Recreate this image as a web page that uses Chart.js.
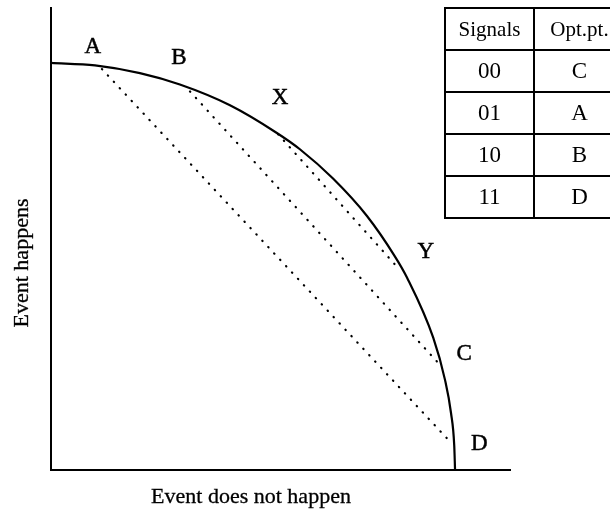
<!DOCTYPE html>
<html>
<head>
<meta charset="utf-8">
<script src="https://cdn.jsdelivr.net/npm/chart.js@4.4.1/dist/chart.umd.min.js"></script>
<style>
    body { margin: 0; background: #fff; overflow: hidden; }
    #wrap { position: relative; width: 610px; height: 509px; overflow: hidden; }
    #signalTable {
        position: absolute; left: 444px; top: 7px; width: 180px;
        border-collapse: collapse; table-layout: fixed;
        font-family: "Liberation Serif", "Times New Roman", serif; color: #000;
    }
    #signalTable th, #signalTable td {
        border: 2px solid #000; height: 40px; padding: 0;
        text-align: center; font-weight: normal;
    }
    #signalTable th { font-size: 21px; }
    #signalTable td { font-size: 23px; }
</style>
</head>
<body>
<div id="wrap">
    <canvas id="grafico" width="610" height="509"></canvas>
    <table id="signalTable">
        <colgroup><col style="width:89px"><col style="width:91px"></colgroup>
        <thead><tr><th>Signals</th><th>Opt.pt.</th></tr></thead>
        <tbody></tbody>
    </table>
</div>
<script>
// frontier
const frontierX = [0, 0.109, 0.220, 0.319, 0.443, 0.559, 0.616, 0.698, 0.782, 0.851, 0.881, 0.946, 0.975, 0.990, 0.998, 1.0];
const frontierY = [1.0, 0.994, 0.975, 0.947, 0.896, 0.828, 0.788, 0.716, 0.624, 0.525, 0.473, 0.325, 0.222, 0.140, 0.060, 0.0];

// named points on the frontier
const pointNames = ['A', 'B', 'X', 'Y', 'C', 'D'];
const pointX = [0.126, 0.344, 0.562, 0.851, 0.963, 0.993];
const pointY = [0.985, 0.930, 0.825, 0.505, 0.258, 0.064];

// dotted chords
const chords = [['A', 'D'], ['B', 'C'], ['X', 'Y']];

// table
const signals = ['00', '01', '10', '11'];
const optPoints = ['C', 'A', 'B', 'D'];

const xTitle = 'Event does not happen';
const yTitle = 'Event happens';

// label offsets in px from the point
const labelOffset = { A: [-9, -22], B: [-11, -33], X: [2, -36], Y: [31, -12], C: [24, -11], D: [27, 0] };
const ink = '#000';
const serif = '"Liberation Serif", "Times New Roman", serif';

document.querySelector('#signalTable tbody').innerHTML =
    signals.map((s, i) => `<tr><td>${s}</td><td>${optPoints[i]}</td></tr>`).join('');

const pt = name => {
    const i = pointNames.indexOf(name);
    return { x: pointX[i], y: pointY[i] };
};

const chordSets = chords.map(([a, b]) => ({
    data: [pt(a), pt(b)],
    showLine: true,
    borderColor: ink,
    borderWidth: 2.2,
    borderCapStyle: 'round',
    borderDash: [0.4, 8.3],
    pointRadius: 0,
    fill: false
}));

const labelsPlugin = {
    id: 'labels',
    afterDatasetsDraw(chart) {
        const { ctx, scales: { x, y } } = chart;
        ctx.save();
        ctx.fillStyle = ink;
        ctx.strokeStyle = ink;
        ctx.lineWidth = 0.5;
        ctx.font = `23px ${serif}`;
        ctx.textAlign = 'center';
        ctx.textBaseline = 'middle';
        pointNames.forEach((n, i) => {
            const off = labelOffset[n];
            const px = x.getPixelForValue(pointX[i]) + off[0];
            const py = y.getPixelForValue(pointY[i]) + off[1];
            ctx.fillText(n, px, py);
            ctx.strokeText(n, px, py);
        });

        // axis titles
        ctx.font = `22px ${serif}`;
        ctx.lineWidth = 0.3;
        ctx.textBaseline = 'alphabetic';
        ctx.textAlign = 'center';
        ctx.fillText(xTitle, 251, 503);
        ctx.strokeText(xTitle, 251, 503);
        ctx.translate(28, 263);
        ctx.rotate(-Math.PI / 2);
        ctx.fillText(yTitle, 0, 0);
        ctx.strokeText(yTitle, 0, 0);
        ctx.restore();
    }
};

new Chart(document.getElementById('grafico').getContext('2d'), {
    type: 'scatter',
    data: {
        datasets: [{
            data: frontierX.map((v, i) => ({ x: v, y: frontierY[i] })),
            showLine: true,
            cubicInterpolationMode: 'monotone',
            borderColor: ink,
            borderWidth: 2.2,
            pointRadius: 0,
            fill: false
        }, ...chordSets]
    },
    options: {
        responsive: false,
        animation: false,
        devicePixelRatio: 1,
        layout: { padding: { left: 51, top: 8, right: 100, bottom: 39 } },
        plugins: { legend: { display: false }, tooltip: { enabled: false } },
        scales: {
            x: {
                type: 'linear', min: 0, max: 1.136,
                ticks: { display: false },
                grid: { display: false, drawTicks: false },
                border: { display: true, color: ink, width: 2 },
                afterFit: s => { s.height = 0; }
            },
            y: {
                type: 'linear', min: 0, max: 1.135,
                ticks: { display: false },
                grid: { display: false, drawTicks: false },
                border: { display: true, color: ink, width: 2 },
                afterFit: s => { s.width = 0; }
            }
        }
    },
    plugins: [labelsPlugin]
});
</script>
</body>
</html>
